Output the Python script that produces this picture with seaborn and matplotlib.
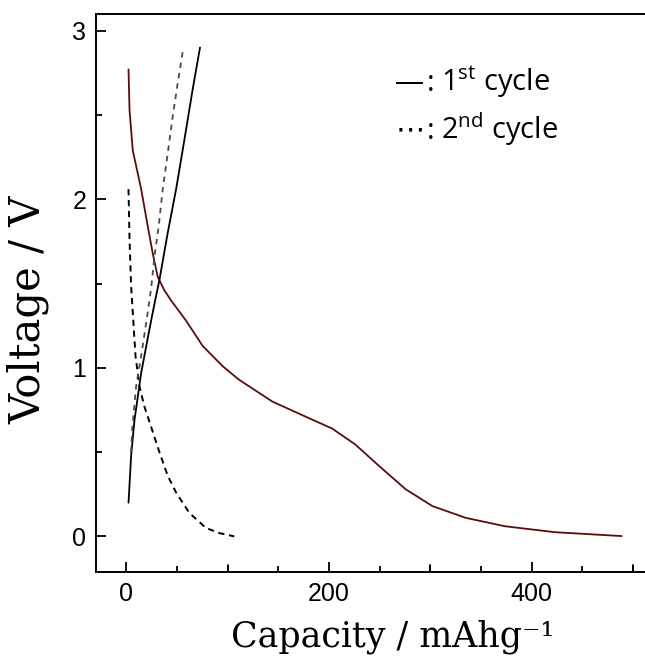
"""
Charge / discharge voltage profiles, 1st and 2nd cycle
"""
import pandas as pd
import matplotlib
matplotlib.use('Agg')
import matplotlib.pyplot as plt
import seaborn as sns
from matplotlib.ticker import MultipleLocator

# 1st cycle discharge (dark red)
cap_dis1 = [2.0, 3.0, 6.2, 14.5, 21.0, 25.9, 30.8, 37.4, 44.0, 58.8, 75.2, 94.9, 111,
            144, 177, 203, 226, 249, 275.6, 302, 335, 374, 423, 489]
volt_dis1 = [2.77, 2.53, 2.29, 2.06, 1.84, 1.68, 1.54, 1.46, 1.40, 1.28, 1.13, 1.01, 0.93,
             0.80, 0.71, 0.64, 0.545, 0.42, 0.28, 0.18, 0.11, 0.06, 0.025, 0.002]

# 1st cycle charge (black solid)
cap_chg1 = [2.0, 4.6, 7.9, 14.5, 22.7, 28.3, 32.5, 40.7, 49.0, 57.1, 65.3, 72.6]
volt_chg1 = [0.20, 0.48, 0.69, 0.97, 1.23, 1.40, 1.52, 1.80, 2.06, 2.35, 2.65, 2.90]

# 2nd cycle discharge (black dashed)
cap_dis2 = [2.0, 3.0, 4.6, 6.2, 8.9, 12.8, 17.7, 24.3, 32.5, 40.7, 49.0, 62.0, 78.5,
            91.6, 106.4]
volt_dis2 = [2.06, 1.76, 1.48, 1.33, 1.07, 0.89, 0.77, 0.65, 0.50, 0.36, 0.26, 0.14, 0.05,
             0.02, 0.0]

# 2nd cycle charge (grey dashed)
cap_chg2 = [4.5, 5.6, 9.5, 14.5, 21.0, 24.5, 27.6, 31.8, 35.8, 40.7, 45.6, 50.6, 56.2]
volt_chg2 = [0.50, 0.63, 0.89, 1.07, 1.33, 1.48, 1.66, 1.84, 2.06, 2.27, 2.49, 2.69, 2.90]

x_ticks = [0, 200, 400]
y_ticks = [0, 1, 2, 3]

sns.set_style('ticks')
plt.rcParams['font.family'] = ['Liberation Sans', 'DejaVu Sans']
plt.rcParams['mathtext.fontset'] = 'custom'
plt.rcParams['mathtext.rm'] = 'Open Sans'
plt.rcParams['xtick.color'] = 'black'
plt.rcParams['ytick.color'] = 'black'
plt.rcParams['axes.labelcolor'] = 'black'
plt.rcParams['text.color'] = 'black'

fig = plt.figure(figsize=(6.45, 6.58), dpi=100)
ax = fig.add_axes([0.149, 0.131, 0.851, 0.848])

curves = [
    (cap_dis1, volt_dis1, '#5a0c0c', None, 1.3),
    (cap_chg1, volt_chg1, 'black', None, 1.3),
    (cap_dis2, volt_dis2, 'black', (3.2, 2.4), 1.4),
    (cap_chg2, volt_chg2, '#4a4a4a', (3.0, 2.8), 1.3),
]
for cap, volt, color, dashes, lw in curves:
    df = pd.DataFrame({'cap': cap, 'volt': volt})
    sns.lineplot(data=df, x='cap', y='volt', ax=ax, color=color, lw=lw,
                 sort=False, estimator=None)
    if dashes is not None:
        ax.lines[-1].set_dashes(dashes)

ax.set_xlim(-30, 512)
ax.set_ylim(-0.21, 3.1)
ax.set_xticks(x_ticks)
ax.xaxis.set_minor_locator(MultipleLocator(50))
ax.set_yticks(y_ticks)
ax.yaxis.set_minor_locator(MultipleLocator(0.5))
ax.tick_params(which='both', direction='in', labelsize=18, width=1.3, pad=7)
ax.tick_params(which='major', length=7)
ax.tick_params(which='minor', length=4)
for s in ['left', 'bottom', 'top']:
    ax.spines[s].set_linewidth(1.4)
    ax.spines[s].set_color('black')
ax.spines['right'].set_visible(False)

# unlabeled major ticks at 100, 300, 500
for xv in [100, 300, 500]:
    ax.plot([xv, xv], [-0.21, -0.21 + 7 / 169], color='black', lw=1.3, clip_on=False)

ax.set_xlabel('Capacity / mAhg⁻¹', family='DejaVu Serif', fontsize=25)
ax.set_ylabel('Voltage / V', family='DejaVu Serif', fontsize=30)
ax.xaxis.set_label_coords(0.54, -0.085)
ax.yaxis.set_label_coords(-0.085, 0.47)

leg_font = ['Open Sans', 'DejaVu Sans']
rows = [(0.861, '—', ['Open Sans'], '1$^{\\mathrm{st}}$ cycle'),
        (0.776, '⋯', ['DejaVu Sans'], '2$^{\\mathrm{nd}}$ cycle')]
for ypos, sym, sym_font, label in rows:
    ax.text(0.545, ypos, sym, transform=ax.transAxes, family=sym_font,
            fontsize=21, va='baseline')
    ax.text(0.603, ypos, ':', transform=ax.transAxes, family=leg_font,
            fontsize=21, va='baseline')
    ax.text(0.628, ypos, label, transform=ax.transAxes, family=leg_font,
            fontsize=21, va='baseline')

fig.savefig('out.png', dpi=100)
